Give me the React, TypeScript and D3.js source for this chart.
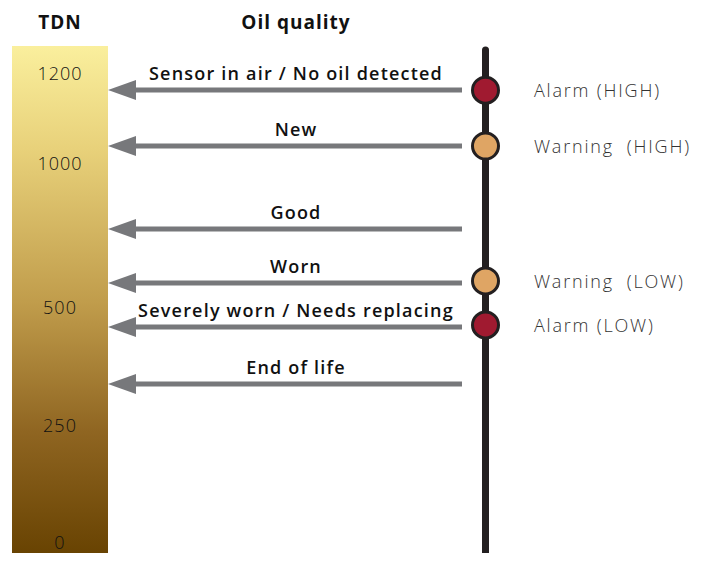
import React from "react";
import * as d3 from "d3";

// TDN scale ticks (the gauge is not linear, so it is a piecewise scale)
const tickValues = [0, 250, 500, 1000, 1200];
const tickLabels = ["0", "250", "500", "1000", "1200"];

// oil quality bands, pointing at their TDN level
const qualityLabels = [
  "Sensor in air / No oil detected",
  "New",
  "Good",
  "Worn",
  "Severely worn / Needs replacing",
  "End of life",
];
const qualityTdn = [1164, 1040, 774, 587, 460, 339];

// alarm / warning thresholds on the sensor line
const thresholdLabels = ["Alarm (HIGH)", "Warning  (HIGH)", "Warning  (LOW)", "Alarm (LOW)"];
const thresholdTdn = [1164, 1040, 594, 464];
const thresholdKind = ["alarm", "warning", "warning", "alarm"];

const W = 708;
const H = 561;
const FONT = "'Open Sans', 'Noto Sans', sans-serif";

const App = () => {
  const y = d3.scaleLinear().domain(tickValues).range([543, 426, 308, 164, 74]);

  const barX = 12;
  const barW = 96;
  const lineX = 485.5;
  const shaftStart = 462;
  const headLen = 28;
  const headHalf = 10;
  const tipX = barX + barW;

  const kindColor = d3.scaleOrdinal<string, string>()
    .domain(["alarm", "warning"])
    .range(["#a01a30", "#dfa564"]);

  return (
    <div style={{ margin: -8 }}>
      <svg width={W} height={H} style={{ display: "block", background: "#fff" }}>
        <defs>
          <linearGradient id="tdnGrad" x1="0" y1="0" x2="0" y2="1">
            <stop offset="0%" stopColor="#faef9d" />
            <stop offset="20%" stopColor="#e8d17a" />
            <stop offset="50%" stopColor="#c09c4b" />
            <stop offset="75%" stopColor="#8f6521" />
            <stop offset="100%" stopColor="#664100" />
          </linearGradient>
        </defs>

        {/* titles */}
        <text x={60} y={29} textAnchor="middle" fontFamily={FONT} fontWeight={700} fontSize={19}
          letterSpacing={1} fill="#111">TDN</text>
        <text x={296} y={29} textAnchor="middle" fontFamily={FONT} fontWeight={700} fontSize={19}
          letterSpacing={1} fill="#111">Oil quality</text>

        {/* TDN gauge */}
        <rect x={barX} y={46} width={barW} height={H - 46} fill="url(#tdnGrad)" />
        {tickValues.map((v, i) => (
          <text key={v} x={barX + barW / 2} y={y(v)} dy="0.35em" textAnchor="middle"
            fontFamily={FONT} fontWeight={300} fontSize={18} letterSpacing={1} fill="#111">{tickLabels[i]}</text>
        ))}

        {/* arrows */}
        {qualityTdn.map((v, i) => {
          const yy = Math.round(y(v));
          const head = d3.path();
          head.moveTo(tipX, yy);
          head.lineTo(tipX + headLen, yy - headHalf);
          head.lineTo(tipX + headLen, yy + headHalf);
          head.closePath();
          return (
            <g key={qualityLabels[i]}>
              <line x1={tipX + headLen - 2} x2={shaftStart} y1={yy} y2={yy} stroke="#77787b" strokeWidth={5} />
              <path d={head.toString()} fill="#77787b" />
              <text x={296} y={yy - 10} textAnchor="middle" fontFamily={FONT} fontWeight={600}
                fontSize={18} letterSpacing={1.2} fill="#111">{qualityLabels[i]}</text>
            </g>
          );
        })}

        {/* sensor line */}
        <line x1={lineX} x2={lineX} y1={50} y2={556} stroke="#231f20" strokeWidth={7} strokeLinecap="round" />

        {/* thresholds */}
        {thresholdTdn.map((v, i) => (
          <g key={thresholdLabels[i]}>
            <circle cx={lineX} cy={y(v)} r={13} fill={kindColor(thresholdKind[i])} stroke="#231f20" strokeWidth={3} />
            <text x={534} y={y(v)} dy="0.38em" fontFamily={FONT} fontWeight={300} fontSize={18}
              letterSpacing={1.8} fill="#333" style={{ whiteSpace: "pre" }}>{thresholdLabels[i]}</text>
          </g>
        ))}
      </svg>
    </div>
  );
};

export default App;
